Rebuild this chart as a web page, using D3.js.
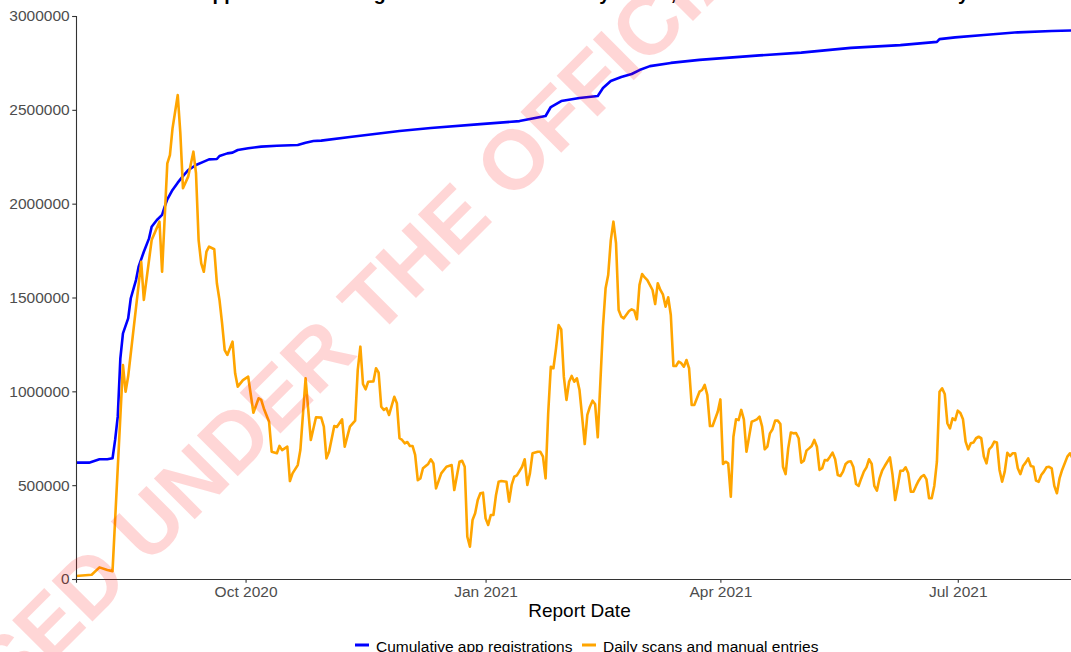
<!DOCTYPE html>
<html>
<head>
<meta charset="utf-8">
<script src="https://cdn.jsdelivr.net/npm/d3@7"></script>
<style>
  body { margin: 0; background: #fff; }
  svg { display: block; font-family: "Liberation Sans", Arial, sans-serif; }
</style>
</head>
<body>
<svg id="chart"></svg>
<script>
// report dates are stored as days since the first report date
const firstReport = "2020-07-28";
const lastReport = "2021-08-18";

// cumulative app registrations [day, value]
const registrations = [
  [0,620000],[5,620000],[7,629000],[9,638000],[12,638000],[14,643000],[15,741000],[16,865000],
  [17,1176000],[18,1309000],[20,1389000],[21,1496000],[23,1593000],[24,1664000],[26,1744000],
  [28,1815000],[29,1877000],[31,1913000],[33,1940000],[34,1984000],[35,2023000],[37,2073000],
  [39,2112000],[41,2147000],[43,2179000],[46,2206000],[49,2224000],[51,2236000],[54,2238000],
  [55,2254000],[58,2268000],[60,2272000],[62,2286000],[66,2295000],[71,2304000],[77,2309000],
  [85,2313000],[88,2325000],[91,2334000],[94,2336000],[105,2355000],[124,2387000],[136,2403000],
  [155,2424000],[170,2440000],[180,2467000],[182,2515000],[186,2547000],[193,2563000],[200,2574000],
  [202,2616000],[205,2654000],[209,2675000],[213,2691000],[216,2712000],[220,2733000],[228,2750000],
  [239,2766000],[262,2790000],[278,2805000],[297,2830000],[316,2845000],[330,2862000],[331,2877000],
  [337,2886000],[348,2899000],[361,2913000],[374,2920000],[382,2923000]
];

// daily scans and manual entries [day, value]
const scans = [
  [0,16000],[6,23000],[9,62000],[12,48000],[14,42000],[18,1140000],[19,998000],[20,1080000],
  [25,1690000],[26,1487000],[29,1806000],[32,1904000],[33,1637000],[35,2215000],[36,2259000],
  [37,2401000],[39,2579000],[40,2375000],[41,2082000],[43,2144000],[45,2277000],[46,2162000],
  [47,1806000],[48,1682000],[49,1637000],[50,1744000],[51,1771000],[53,1757000],[54,1576000],
  [55,1487000],[56,1362000],[57,1220000],[58,1194000],[60,1265000],[61,1096000],[62,1025000],
  [64,1060000],[66,1078000],[68,886000],[70,963000],[71,954000],[72,909000],[74,838000],
  [75,678000],[77,670000],[78,709000],[79,687000],[81,705000],[82,522000],[83,563000],
  [85,607000],[86,687000],[88,1069000],[90,741000],[92,862000],[94,860000],[95,812000],
  [96,643000],[97,678000],[99,815000],[100,810000],[102,851000],[103,705000],[105,812000],
  [107,844000],[108,1114000],[109,1238000],[110,1039000],[111,1011000],[112,1051000],[114,1053000],
  [115,1123000],[116,1100000],[117,918000],[118,901000],[119,910000],[120,874000],[122,971000],
  [123,936000],[124,750000],[125,741000],[126,723000],[127,730000],[128,709000],[129,709000],
  [130,661000],[131,527000],[132,536000],[133,590000],[135,613000],[136,638000],[137,616000],
  [138,483000],[140,563000],[142,598000],[144,607000],[145,474000],[147,625000],[148,630000],
  [149,598000],[150,225000],[151,172000],[152,314000],[153,350000],[154,421000],[155,457000],
  [156,460000],[157,323000],[158,288000],[159,341000],[160,341000],[161,448000],[162,518000],
  [163,522000],[165,518000],[166,412000],[167,501000],[168,545000],[169,552000],[171,598000],
  [172,638000],[173,501000],[174,563000],[175,670000],[177,678000],[178,678000],[179,652000],
  [180,536000],[181,883000],[182,1131000],[183,1123000],[184,1229000],[185,1353000],[186,1330000],
  [187,1078000],[188,954000],[189,1051000],[190,1082000],[191,1051000],[192,1069000],[193,1007000],
  [194,865000],[195,719000],[196,874000],[197,918000],[198,950000],[199,931000],[200,755000],
  [202,1344000],[203,1549000],[204,1620000],[205,1806000],[206,1904000],[207,1789000],[208,1433000],
  [209,1398000],[210,1389000],[212,1428000],[213,1437000],[214,1430000],[215,1384000],[216,1567000],
  [217,1625000],[218,1607000],[219,1593000],[221,1540000],[222,1465000],[223,1576000],[224,1540000],
  [225,1515000],[226,1451000],[227,1501000],[228,1407000],[229,1135000],[230,1135000],[231,1158000],
  [232,1150000],[233,1131000],[234,1167000],[235,1123000],[236,927000],[237,927000],[239,998000],
  [240,1007000],[241,1034000],[242,980000],[243,815000],[244,815000],[246,891000],[247,957000],
  [248,613000],[249,625000],[250,616000],[251,439000],[252,758000],[253,851000],[254,847000],
  [255,901000],[256,851000],[257,678000],[259,838000],[260,844000],[261,851000],[262,865000],
  [263,812000],[264,691000],[265,705000],[266,776000],[267,798000],[268,844000],[269,844000],
  [270,826000],[271,598000],[272,559000],[273,696000],[274,780000],[275,776000],[276,778000],
  [277,750000],[278,620000],[279,630000],[280,684000],[281,696000],[282,709000],[283,741000],
  [284,705000],[285,581000],[286,590000],[287,634000],[288,632000],[289,652000],[290,673000],
  [291,638000],[292,554000],[293,549000],[294,572000],[295,613000],[296,625000],[297,627000],
  [298,595000],[299,506000],[300,496000],[301,536000],[302,572000],[303,595000],[304,638000],
  [305,613000],[306,496000],[307,471000],[308,536000],[309,577000],[310,602000],[311,625000],
  [312,648000],[313,554000],[314,421000],[315,496000],[316,577000],[317,577000],[318,595000],
  [319,563000],[320,465000],[321,465000],[322,496000],[323,524000],[324,545000],[325,554000],
  [326,531000],[327,430000],[328,430000],[329,496000],[330,625000],[331,998000],[332,1016000],
  [333,986000],[334,830000],[335,803000],[336,856000],[337,847000],[338,897000],[339,885000],
  [340,851000],[341,732000],[342,691000],[343,723000],[344,727000],[345,750000],[346,758000],
  [347,750000],[348,652000],[349,616000],[350,691000],[351,705000],[352,732000],[353,727000],
  [354,581000],[355,518000],[356,572000],[357,673000],[358,655000],[359,670000],[360,670000],
  [361,590000],[362,559000],[363,602000],[364,620000],[365,643000],[366,602000],[367,598000],
  [368,524000],[369,518000],[370,554000],[371,572000],[372,595000],[373,598000],[374,590000],
  [375,496000],[376,457000],[377,536000],[378,581000],[380,652000],[381,670000],[382,643000]
];

const yTicks = [0, 500000, 1000000, 1500000, 2000000, 2500000, 3000000];
const xTicks = ["2020-10-01", "2021-01-01", "2021-04-01", "2021-07-01"];
const seriesNames = ["Cumulative app registrations", "Daily scans and manual entries"];
const seriesColors = ["#0000ff", "#ffa500"];
const titleText = "NZ COVID Tracer app: cumulative registrations and total daily scans, and the total manual entries by date";
const watermarkText = "RELEASED UNDER THE OFFICIAL INFORMATION ACT";

const W = 1071, H = 652;
const margin = {top: 16, right: -12, bottom: 73, left: 76};
const width = W - margin.left - margin.right,
      height = H - margin.top - margin.bottom;

const parse = d3.timeParse("%Y-%m-%d");
const start = parse(firstReport);
const toDate = d => d3.timeDay.offset(start, d);

const svg = d3.select("#chart").attr("width", W).attr("height", H);

const x = d3.scaleTime()
  .domain([start, parse(lastReport)])
  .range([0, width]);

const y = d3.scaleLinear()
  .domain([0, 3000000])
  .range([height, 0]);

// title (mostly above the visible area)
svg.append("text")
  .attr("x", 39)
  .attr("y", -0.5)
  .attr("font-size", "19.5px")
  .attr("font-weight", "bold")
  .attr("fill", "#000")
  .text(titleText);

const g = svg.append("g")
  .attr("transform", "translate(" + margin.left + "," + margin.top + ")");

const line = d3.line()
  .x(d => x(toDate(d[0])))
  .y(d => y(d[1]));

[registrations, scans].forEach(function(series, i) {
  g.append("path")
    .datum(series)
    .attr("fill", "none")
    .attr("stroke", seriesColors[i])
    .attr("stroke-width", 2.6)
    .attr("stroke-linejoin", "round")
    .attr("d", line);
});

// axes
const yAxis = g.append("g")
  .call(d3.axisLeft(y).tickValues(yTicks).tickFormat(d3.format("d")).tickSizeOuter(0).tickSize(3.7).tickPadding(2.6));

const xAxis = g.append("g")
  .attr("transform", "translate(0," + height + ")")
  .call(d3.axisBottom(x).tickValues(xTicks.map(parse)).tickFormat(d3.timeFormat("%b %Y")).tickSizeOuter(0).tickSize(3.7).tickPadding(3));

[yAxis, xAxis].forEach(function(ax) {
  ax.select(".domain").attr("stroke", "#333").attr("stroke-width", 1.1);
  ax.selectAll(".tick line").attr("stroke", "#333").attr("stroke-width", 1.1);
  ax.selectAll(".tick text")
    .attr("fill", "#4d4d4d")
    .style("font-size", "15.5px")
    .style("font-family", "Liberation Sans, Arial, sans-serif");
});

// axis title
svg.append("text")
  .attr("x", margin.left + width / 2)
  .attr("y", 617)
  .attr("text-anchor", "middle")
  .attr("font-size", "19px")
  .attr("fill", "#000")
  .text("Report Date");

// legend
const legend = svg.append("g").attr("transform", "translate(355,645)");
const keyX = [0, 227];
seriesNames.forEach(function(name, i) {
  const item = legend.append("g").attr("transform", "translate(" + keyX[i] + ",0)");
  item.append("line")
    .attr("x1", 0).attr("x2", 14)
    .attr("stroke", seriesColors[i])
    .attr("stroke-width", 3);
  item.append("text")
    .attr("x", 21)
    .attr("y", 6.5)
    .attr("font-size", "15.5px")
    .attr("fill", "#000")
    .text(name);
});

// watermark
svg.append("text")
  .attr("transform", "translate(-192,906) rotate(-45)")
  .attr("font-size", "84px")
  .attr("font-weight", "bold")
  .attr("fill", "#ff0000")
  .attr("fill-opacity", 0.16)
  .text(watermarkText);
</script>
</body>
</html>
